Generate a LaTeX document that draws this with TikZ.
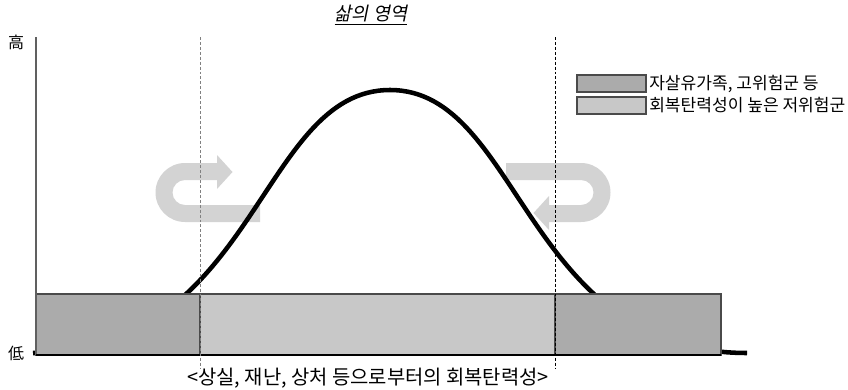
\documentclass[tikz,border=0pt]{standalone}
\usepackage{fontspec}
\setmainfont{Noto Sans CJK KR}
\newfontfamily\krit[FakeSlant=0.2]{Noto Sans CJK KR}
\definecolor{barDark}{HTML}{ABABAB}
\definecolor{barLight}{HTML}{C8C8C8}
\definecolor{arrowGray}{HTML}{D3D3D3}
\definecolor{edgeGray}{HTML}{4A4A4A}
\definecolor{axisGray}{HTML}{606060}
\begin{document}
\begin{tikzpicture}[x=0.75pt,y=-0.75pt,
  darkbar/.style={fill=barDark,draw=edgeGray,line width=0.8pt},
  lightbar/.style={fill=barLight,draw=edgeGray,line width=0.8pt},
  uarrow/.style={fill=arrowGray,draw=none},
  bell/.style={draw=black,line width=3.4pt},
  guide/.style={dash pattern=on 2.2pt off 1.5pt,line width=0.6pt},
  label/.style={inner sep=0pt,font=\fontsize{12}{14}\selectfont},
  legtext/.style={inner sep=0pt,anchor=west,font=\fontsize{12.8}{15}\selectfont}]
\useasboundingbox (0,0) rectangle (848,389);
% U-turn arrows
\path[uarrow] (260,222) -- (185,222) arc[start angle=90,end angle=270,radius=29.5]
  -- (217,163) -- (217,155) -- (232.5,172) -- (217,189) -- (217,180) -- (185,180)
  arc[start angle=270,end angle=90,radius=12.5] -- (260,205) -- cycle;
\begin{scope}[rotate around={180:(383,192.5)}]
\path[uarrow] (260,222) -- (185,222) arc[start angle=90,end angle=270,radius=29.5]
  -- (217,163) -- (217,155) -- (232.5,172) -- (217,189) -- (217,180) -- (185,180)
  arc[start angle=270,end angle=90,radius=12.5] -- (260,205) -- cycle;
\end{scope}
% bell curve
\draw[bell] (33,353) .. controls (256,353) and (259,90) .. (390,90)
  .. controls (521,90) and (524,353) .. (747,353);
% bars
\draw[darkbar] (36,294) rectangle (200,355);
\draw[lightbar] (200,294) rectangle (555,355);
\draw[darkbar] (555,294) rectangle (721,355);
% axes
\draw[axisGray,line width=0.8pt] (36,37) -- (36,355);
\draw[black,line width=1.3pt] (36,355) -- (721,355);
% guides
\draw[guide,draw=gray] (200,37) -- (200,368);
\draw[guide,draw=black] (555,37) -- (555,368);
% legend
\draw[darkbar] (577,75) rectangle (646,92);
\draw[lightbar] (577,97) rectangle (646,114);
\node[legtext] (leg1) at (649,83.5) {자살유가족, 고위험군 등};
\node[legtext] (leg2) at (649,105.5) {회복탄력성이 높은 저위험군};
% labels
\node[label] (hi) at (16,42) {高};
\node[label] (lo) at (16,353) {低};
\node[label,font=\fontsize{14}{16}\selectfont] (title) at (371,15) {\krit\underline{삶의 영역}};
\node[label,font=\fontsize{14.9}{17}\selectfont] (caption) at (368,378) {<상실, 재난, 상처 등으로부터의 회복탄력성>};
\end{tikzpicture}
\end{document}
